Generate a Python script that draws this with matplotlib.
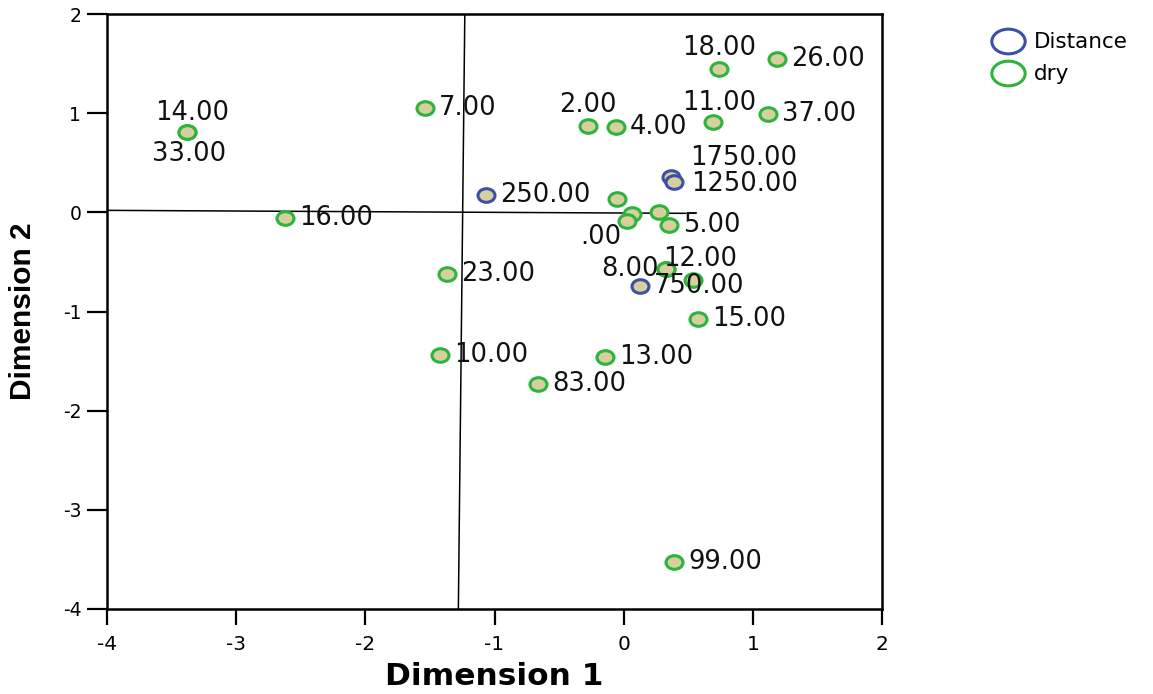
import matplotlib
matplotlib.use("Agg")
import matplotlib.pyplot as plt
from matplotlib.path import Path
from matplotlib.transforms import Affine2D
from matplotlib.lines import Line2D

plt.rcParams['font.family'] = ['DejaVu Sans']

# ---- data ----
dist_labels = ["250.00", "1750.00", "1250.00", "750.00"]
dist_x = [-1.066, 0.366, 0.390, 0.126]
dist_y = [0.17, 0.36, 0.31, -0.74]

dry_labels = ["14.00", "33.00", "7.00", "16.00", "23.00", "10.00", "83.00", "13.00",
              "99.00", "15.00", "2.00", "4.00", "18.00", "26.00", "11.00", "37.00",
              "", "", ".00", "", "5.00", "8.00", "12.00", ""]
dry_x = [-3.38, -3.38, -1.54, -2.62, -1.37, -1.42, -0.66, -0.145,
         0.39, 0.575, -0.28, -0.06, 0.74, 1.19, 0.69, 1.12,
         -0.05, 0.065, 0.025, 0.27, 0.35, 0.33, 0.33, 0.535]
dry_y = [0.81, 0.81, 1.05, -0.06, -0.62, -1.44, -1.73, -1.46,
         -3.53, -1.08, 0.87, 0.86, 1.45, 1.55, 0.91, 0.99,
         0.13, -0.02, -0.09, 0.0, -0.13, -0.57, -0.57, -0.68]

# rotated reference axes (endpoints in data units)
hline_x = [-4.0, 0.48]
hline_y = [0.02, -0.01]
vline_x = [-1.23, -1.28]
vline_y = [2.0, -4.0]

xticks = [-4, -3, -2, -1, 0, 1, 2]
yticks = [-4, -3, -2, -1, 0, 1, 2]

# label placement (pixel offsets, alignment) -- styling only
R = (14, 0, 'left', 'center')
dist_place = [R, (19, 19, 'left', 'center'), (17, -2, 'left', 'center'), R]
dry_place = [(5, 19, 'center', 'center'), (2, -22, 'center', 'center'), R, R, R, R, R, R,
             R, R, (0, 21, 'center', 'center'), R, (0, 21, 'center', 'center'), R,
             (6, 19, 'center', 'center'), R,
             R, R, (-26, -16, 'center', 'center'), R, R,
             (-8, 0, 'right', 'center'), (34, 10, 'center', 'center'), R]

fill_c = '#d8cf9f'
green_c = '#2cb43c'
blue_c = '#3b50a6'

# slightly wide elliptical marker
circ = Path.unit_circle()
ell = circ.transformed(Affine2D().scale(1.25, 1.0))
ell_leg = circ.transformed(Affine2D().scale(1.35, 1.0))

fig = plt.figure(figsize=(11.53, 6.94), dpi=100)
ax = fig.add_axes([0.0928, 0.1225, 0.765 - 0.0928, 0.9798 - 0.1225])

ax.plot(hline_x, hline_y, color='black', lw=1.1, zorder=1)
ax.plot(vline_x, vline_y, color='black', lw=1.1, zorder=1)

ax.scatter(dist_x, dist_y, marker=ell, s=150, facecolor=fill_c, edgecolor=blue_c,
           linewidths=2.2, zorder=3)
ax.scatter(dry_x, dry_y, marker=ell, s=150, facecolor=fill_c, edgecolor=green_c,
           linewidths=2.2, zorder=3)

for lab, x, y, (dx, dy, ha, va) in zip(dist_labels, dist_x, dist_y, dist_place):
    if lab:
        ax.annotate(lab, (x, y), xytext=(dx, dy), textcoords='offset pixels',
                    ha=ha, va=va, fontsize=18.5, color='#111111', zorder=4)
for lab, x, y, (dx, dy, ha, va) in zip(dry_labels, dry_x, dry_y, dry_place):
    if lab:
        ax.annotate(lab, (x, y), xytext=(dx, dy), textcoords='offset pixels',
                    ha=ha, va=va, fontsize=18.5, color='#111111', zorder=4)

ax.set_xlim(-4, 2)
ax.set_ylim(-4, 2)
ax.set_xticks(xticks)
ax.set_yticks(yticks)
ax.set_xticklabels([str(t) for t in xticks])
ax.set_yticklabels([str(t) for t in yticks])
ax.tick_params(axis='x', direction='out', length=11.5, width=1.6, labelsize=14.5, pad=7)
ax.tick_params(axis='y', direction='out', length=14.5, width=1.6, labelsize=13.5, pad=4)
for s in ax.spines.values():
    s.set_linewidth(1.8)

ax.set_xlabel('Dimension 1', fontsize=22.5, fontweight='bold', labelpad=6)
ax.set_ylabel('Dimension 2', fontsize=21.5, fontweight='heavy',
              family=['Liberation Sans', 'DejaVu Sans'])
ax.yaxis.set_label_coords(-0.090, 0.5)

handles = [Line2D([], [], marker=ell_leg, ls='none', markersize=24, markerfacecolor='none',
                  markeredgecolor=blue_c, markeredgewidth=2.2, label='Distance'),
           Line2D([], [], marker=ell_leg, ls='none', markersize=24, markerfacecolor='none',
                  markeredgecolor=green_c, markeredgewidth=2.2, label='dry')]
fig.legend(handles=handles, loc='upper left', bbox_to_anchor=(0.848, 0.966),
           frameon=False, fontsize=15.5, handletextpad=0.22, labelspacing=0.55,
           borderaxespad=0)

fig.savefig('out.png', dpi=100)
